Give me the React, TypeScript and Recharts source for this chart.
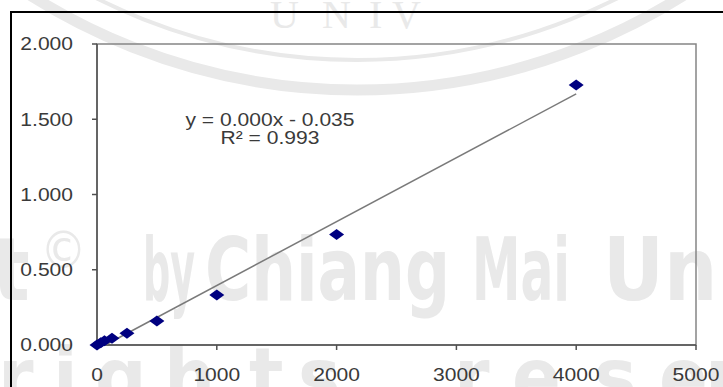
import React from 'react';
import { ScatterChart, Scatter, XAxis, YAxis, ReferenceArea } from 'recharts';

// standard curve: concentration vs absorbance
const concentrations = [0, 31.25, 62.5, 125, 250, 500, 1000, 2000, 4000];
const absorbance = [0.0, 0.015, 0.028, 0.045, 0.078, 0.16, 0.332, 0.735, 1.728];
const xTicks = [0, 1000, 2000, 3000, 4000, 5000];
const yTicks = [0, 0.5, 1, 1.5, 2];
const equationLabel = 'y = 0.000x - 0.035';
const r2Label = 'R² = 0.993';

const points = concentrations.map((x, i) => ({ x, y: absorbance[i] }));

// least squares trendline through the points (clipped at y = 0)
const n = points.length;
const meanX = points.reduce((s, p) => s + p.x, 0) / n;
const meanY = points.reduce((s, p) => s + p.y, 0) / n;
const slope =
  points.reduce((s, p) => s + (p.x - meanX) * (p.y - meanY), 0) /
  points.reduce((s, p) => s + (p.x - meanX) ** 2, 0);
const intercept = meanY - slope * meanX;
const maxX = Math.max(...concentrations);
const trend = [
  { x: -intercept / slope, y: 0 },
  { x: maxX, y: slope * maxX + intercept },
];

const FONT = '"Liberation Sans", Arial, sans-serif';
const TEXT = '#3a3a3a';
const STRETCH = 1.17;

const Diamond = (props: any) => {
  const { cx, cy } = props;
  if (cx == null || cy == null) return <g />;
  return (
    <polygon
      points={`${cx},${cy - 5.5} ${cx + 7.5},${cy} ${cx},${cy + 5.5} ${cx - 7.5},${cy}`}
      fill="#000080"
    />
  );
};

const YTick = (props: any) => {
  const { x, y, payload } = props;
  return (
    <g transform={`translate(${x},${y})`}>
      <text transform={`scale(${STRETCH},1)`} textAnchor="end" dy="0.36em" fontSize={18} fontFamily={FONT} fill={TEXT}>
        {Number(payload.value).toFixed(3)}
      </text>
    </g>
  );
};

const XTick = (props: any) => {
  const { x, y, payload } = props;
  return (
    <g transform={`translate(${x},${y})`}>
      <text transform={`scale(${STRETCH},1)`} textAnchor="middle" dy="0.36em" fontSize={18} fontFamily={FONT} fill={TEXT}>
        {payload.value}
      </text>
    </g>
  );
};

// faint background watermark of the scanned page
const WM = '#e9e9e9';
const wmFont = '"DejaVu Sans Condensed", "DejaVu Sans", sans-serif';
const bottomLetters: [string, number][] = [
  ['r', -2], ['i', 53], ['g', 95], ['h', 164], ['t', 249], ['s', 298],
  ['r', 454], ['e', 512], ['s', 594], ['e', 659], ['r', 705],
];

const Watermark = () => (
  <svg width={723} height={387} style={{ position: 'absolute', left: 0, top: 0 }}>
    <circle cx={357} cy={-520} r={610} fill="none" stroke={WM} strokeWidth={11} />
    <circle cx={357} cy={-520} r={580} fill="none" stroke={WM} strokeWidth={4} />
    <g fontFamily='"Liberation Serif", serif' fontSize={40} fill={WM}>
      <text x={270} y={28}>U</text>
      <text x={322} y={28}>N</text>
      <text x={369} y={28}>I</text>
      <text x={392} y={28}>V</text>
    </g>
    <g fontFamily={wmFont} fontSize={88} fontWeight="bold" fill={WM}>
      <text x={-8} y={300}>t</text>
      <text x={143} y={300} textLength={52} lengthAdjust="spacingAndGlyphs">by</text>
      <text x={205} y={300} textLength={245} lengthAdjust="spacingAndGlyphs">Chiang</text>
      <text x={472} y={300} textLength={98} lengthAdjust="spacingAndGlyphs">Mai</text>
      <text x={603} y={300} textLength={140} lengthAdjust="spacingAndGlyphs">Uni</text>
    </g>
    <text x={40} y={268} fontFamily={wmFont} fontSize={52} fill={WM}>©</text>
    <g fontFamily={wmFont} fontSize={80} fontWeight="bold" fill={WM}>
      {bottomLetters.map(([ch, x], i) => (
        <text key={i} x={x} y={405}>{ch}</text>
      ))}
    </g>
  </svg>
);

export default function App() {
  return (
    <div
      style={{
        position: 'absolute',
        left: 0,
        top: 0,
        width: 723,
        height: 387,
        background: '#fff',
        overflow: 'hidden',
        fontFamily: FONT,
      }}
    >
      <Watermark />
      <div
        style={{
          position: 'absolute',
          left: 10,
          top: 11,
          width: 730,
          height: 400,
          borderTop: '2px solid #000',
          borderLeft: '2px solid #000',
        }}
      />
      <div style={{ position: 'absolute', left: 0, top: 0 }}>
        <ScatterChart width={723} height={387} margin={{ top: 44, right: 27, bottom: 0, left: 0 }}>
          <ReferenceArea x1={0} x2={5000} y1={0} y2={2} fill="none" stroke="#858585" strokeWidth={1.5} />
          <XAxis
            type="number"
            dataKey="x"
            domain={[0, 5000]}
            ticks={xTicks}
            height={42}
            tickSize={5}
            tickMargin={25}
            axisLine={{ stroke: '#505050', strokeWidth: 1.5 }}
            tickLine={{ stroke: '#505050', strokeWidth: 1.5 }}
            tick={<XTick />}
          />
          <YAxis
            type="number"
            dataKey="y"
            domain={[0, 2]}
            ticks={yTicks}
            width={97}
            tickSize={5}
            tickMargin={19}
            axisLine={{ stroke: '#505050', strokeWidth: 1.5 }}
            tickLine={{ stroke: '#505050', strokeWidth: 1.5 }}
            tick={<YTick />}
          />
          <Scatter
            data={trend}
            line={{ stroke: '#7a7a7a', strokeWidth: 1.5 }}
            shape={() => <g />}
            isAnimationActive={false}
          />
          <Scatter data={points} shape={<Diamond />} isAnimationActive={false} />
        </ScatterChart>
      </div>
      <svg width={723} height={387} style={{ position: 'absolute', left: 0, top: 0, pointerEvents: 'none' }}>
        <g transform={`translate(270,0) scale(${STRETCH},1)`} fontFamily={FONT} fontSize={18} fill={TEXT} textAnchor="middle">
          <text x={0} y={126}>{equationLabel}</text>
          <text x={0} y={144}>{r2Label}</text>
        </g>
      </svg>
    </div>
  );
}
